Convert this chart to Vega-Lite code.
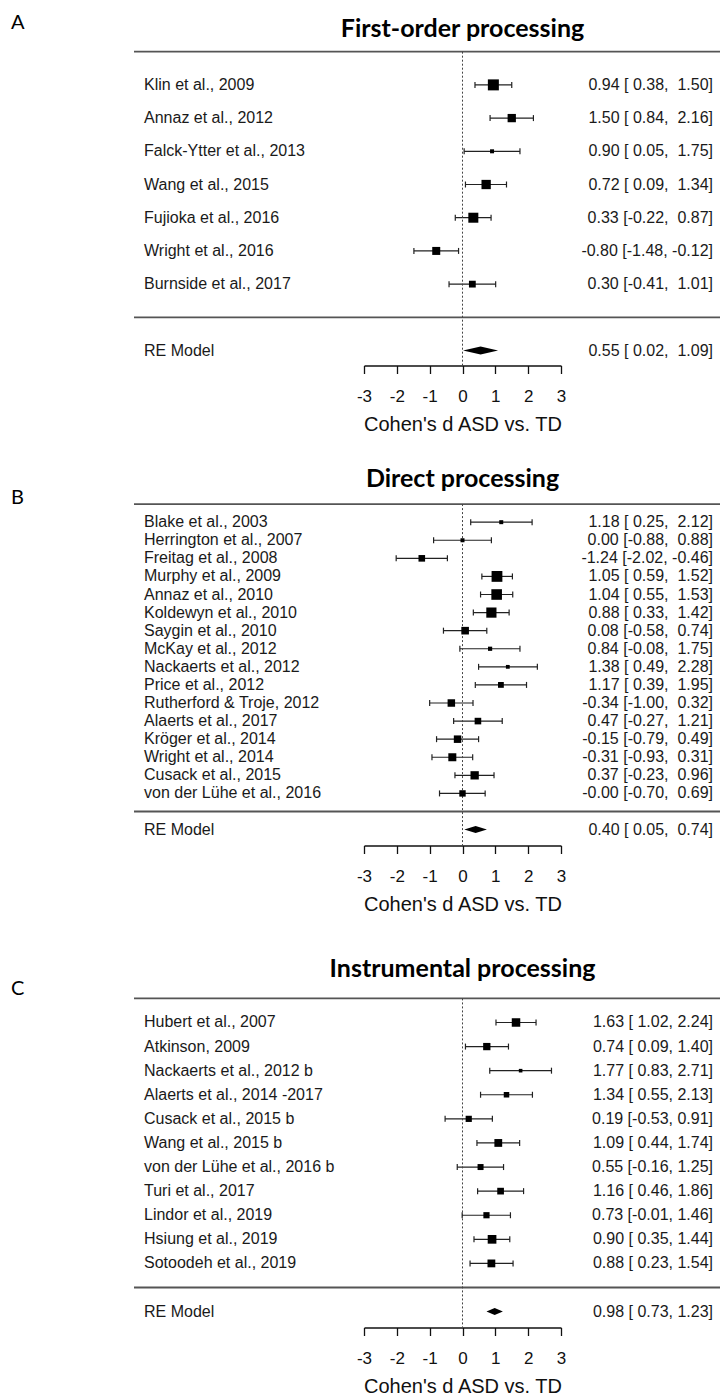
{
  "$schema": "https://vega.github.io/schema/vega-lite/v6.json",
  "background": "white",
  "padding": {"left": 11, "top": 8.5, "right": 0, "bottom": 0},
  "config": {"view": {"stroke": null},
    "axisX": {"values": [-3, -2, -1, 0, 1, 2, 3], "labelExpr": "'' + datum.value", "grid": false,
      "domainColor": "#111", "domainWidth": 1.3, "tickColor": "#111", "tickWidth": 1.3, "tickSize": 8,
      "labelFont": "Liberation Sans", "labelFontSize": 17, "labelColor": "#111", "labelPadding": 15, "labelFlush": false,
      "titleFont": "Liberation Sans", "titleFontSize": 20, "titleFontWeight": "normal", "titleColor": "#111", "titlePadding": 10}},
  "spacing": 97,
  "bounds": "flush",
  "datasets": {
    "first": [
      {"study": "Klin et al., 2009", "order": 7, "es": 0.94, "lb": 0.38, "ub": 1.50, "ci": "0.94 [ 0.38,\u00a0 1.50]", "weight": 11, "kind": "study"},
      {"study": "Annaz et al., 2012", "order": 6, "es": 1.50, "lb": 0.84, "ub": 2.16, "ci": "1.50 [ 0.84,\u00a0 2.16]", "weight": 8.3, "kind": "study"},
      {"study": "Falck-Ytter et al., 2013", "order": 5, "es": 0.90, "lb": 0.05, "ub": 1.75, "ci": "0.90 [ 0.05,\u00a0 1.75]", "weight": 4, "kind": "study"},
      {"study": "Wang et al., 2015", "order": 4, "es": 0.72, "lb": 0.09, "ub": 1.34, "ci": "0.72 [ 0.09,\u00a0 1.34]", "weight": 9.3, "kind": "study"},
      {"study": "Fujioka et al., 2016", "order": 3, "es": 0.33, "lb": -0.22, "ub": 0.87, "ci": "0.33 [-0.22,\u00a0 0.87]", "weight": 10, "kind": "study"},
      {"study": "Wright et al., 2016", "order": 2, "es": -0.80, "lb": -1.48, "ub": -0.12, "ci": "-0.80 [-1.48, -0.12]", "weight": 8, "kind": "study"},
      {"study": "Burnside et al., 2017", "order": 1, "es": 0.30, "lb": -0.41, "ub": 1.01, "ci": "0.30 [-0.41,\u00a0 1.01]", "weight": 6.8, "kind": "study"},
      {"study": "RE Model", "order": -1, "es": 0.55, "lb": 0.02, "ub": 1.09, "ci": "0.55 [ 0.02,\u00a0 1.09]", "kind": "summary"}
    ],
    "direct": [
      {"study": "Blake et al., 2003", "order": 16, "es": 1.18, "lb": 0.25, "ub": 2.12, "ci": "1.18 [ 0.25,\u00a0 2.12]", "weight": 4, "kind": "study"},
      {"study": "Herrington et al., 2007", "order": 15, "es": 0.00, "lb": -0.88, "ub": 0.88, "ci": "0.00 [-0.88,\u00a0 0.88]", "weight": 4, "kind": "study"},
      {"study": "Freitag et al., 2008", "order": 14, "es": -1.24, "lb": -2.02, "ub": -0.46, "ci": "-1.24 [-2.02, -0.46]", "weight": 6.6, "kind": "study"},
      {"study": "Murphy et al., 2009", "order": 13, "es": 1.05, "lb": 0.59, "ub": 1.52, "ci": "1.05 [ 0.59,\u00a0 1.52]", "weight": 10.8, "kind": "study"},
      {"study": "Annaz et al., 2010", "order": 12, "es": 1.04, "lb": 0.55, "ub": 1.53, "ci": "1.04 [ 0.55,\u00a0 1.53]", "weight": 10.6, "kind": "study"},
      {"study": "Koldewyn et al., 2010", "order": 11, "es": 0.88, "lb": 0.33, "ub": 1.42, "ci": "0.88 [ 0.33,\u00a0 1.42]", "weight": 10.2, "kind": "study"},
      {"study": "Saygin et al., 2010", "order": 10, "es": 0.08, "lb": -0.58, "ub": 0.74, "ci": "0.08 [-0.58,\u00a0 0.74]", "weight": 7.6, "kind": "study"},
      {"study": "McKay et al., 2012", "order": 9, "es": 0.84, "lb": -0.08, "ub": 1.75, "ci": "0.84 [-0.08,\u00a0 1.75]", "weight": 4.2, "kind": "study"},
      {"study": "Nackaerts et al., 2012", "order": 8, "es": 1.38, "lb": 0.49, "ub": 2.28, "ci": "1.38 [ 0.49,\u00a0 2.28]", "weight": 3.8, "kind": "study"},
      {"study": "Price et al., 2012", "order": 7, "es": 1.17, "lb": 0.39, "ub": 1.95, "ci": "1.17 [ 0.39,\u00a0 1.95]", "weight": 5.8, "kind": "study"},
      {"study": "Rutherford & Troje, 2012", "order": 6, "es": -0.34, "lb": -1.00, "ub": 0.32, "ci": "-0.34 [-1.00,\u00a0 0.32]", "weight": 7.5, "kind": "study"},
      {"study": "Alaerts et al., 2017", "order": 5, "es": 0.47, "lb": -0.27, "ub": 1.21, "ci": "0.47 [-0.27,\u00a0 1.21]", "weight": 6.6, "kind": "study"},
      {"study": "Kröger et al., 2014", "order": 4, "es": -0.15, "lb": -0.79, "ub": 0.49, "ci": "-0.15 [-0.79,\u00a0 0.49]", "weight": 7.5, "kind": "study"},
      {"study": "Wright et al., 2014", "order": 3, "es": -0.31, "lb": -0.93, "ub": 0.31, "ci": "-0.31 [-0.93,\u00a0 0.31]", "weight": 8, "kind": "study"},
      {"study": "Cusack et al., 2015", "order": 2, "es": 0.37, "lb": -0.23, "ub": 0.96, "ci": "0.37 [-0.23,\u00a0 0.96]", "weight": 8.3, "kind": "study"},
      {"study": "von der Lühe et al., 2016", "order": 1, "es": -0.00, "lb": -0.70, "ub": 0.69, "ci": "-0.00 [-0.70,\u00a0 0.69]", "weight": 6.4, "kind": "study"},
      {"study": "RE Model", "order": -1, "es": 0.40, "lb": 0.05, "ub": 0.74, "ci": "0.40 [ 0.05,\u00a0 0.74]", "kind": "summary"}
    ],
    "instrumental": [
      {"study": "Hubert et al., 2007", "order": 11, "es": 1.63, "lb": 1.02, "ub": 2.24, "ci": "1.63 [ 1.02, 2.24]", "weight": 8.5, "kind": "study"},
      {"study": "Atkinson, 2009", "order": 10, "es": 0.74, "lb": 0.09, "ub": 1.40, "ci": "0.74 [ 0.09, 1.40]", "weight": 7.3, "kind": "study"},
      {"study": "Nackaerts et al., 2012 b", "order": 9, "es": 1.77, "lb": 0.83, "ub": 2.71, "ci": "1.77 [ 0.83, 2.71]", "weight": 3.6, "kind": "study"},
      {"study": "Alaerts et al., 2014 -2017", "order": 8, "es": 1.34, "lb": 0.55, "ub": 2.13, "ci": "1.34 [ 0.55, 2.13]", "weight": 5.5, "kind": "study"},
      {"study": "Cusack et al., 2015 b", "order": 7, "es": 0.19, "lb": -0.53, "ub": 0.91, "ci": "0.19 [-0.53, 0.91]", "weight": 6.2, "kind": "study"},
      {"study": "Wang et al., 2015 b", "order": 6, "es": 1.09, "lb": 0.44, "ub": 1.74, "ci": "1.09 [ 0.44, 1.74]", "weight": 7.8, "kind": "study"},
      {"study": "von der Lühe et al., 2016 b", "order": 5, "es": 0.55, "lb": -0.16, "ub": 1.25, "ci": "0.55 [-0.16, 1.25]", "weight": 6, "kind": "study"},
      {"study": "Turi et al., 2017", "order": 4, "es": 1.16, "lb": 0.46, "ub": 1.86, "ci": "1.16 [ 0.46, 1.86]", "weight": 6.7, "kind": "study"},
      {"study": "Lindor et al., 2019", "order": 3, "es": 0.73, "lb": -0.01, "ub": 1.46, "ci": "0.73 [-0.01, 1.46]", "weight": 6.2, "kind": "study"},
      {"study": "Hsiung et al., 2019", "order": 2, "es": 0.90, "lb": 0.35, "ub": 1.44, "ci": "0.90 [ 0.35, 1.44]", "weight": 8.7, "kind": "study"},
      {"study": "Sotoodeh et al., 2019", "order": 1, "es": 0.88, "lb": 0.23, "ub": 1.54, "ci": "0.88 [ 0.23, 1.54]", "weight": 7.8, "kind": "study"},
      {"study": "RE Model", "order": -1, "es": 0.98, "lb": 0.73, "ub": 1.23, "ci": "0.98 [ 0.73, 1.23]", "kind": "summary"}
    ]
  },
  "vconcat": [
    {
      "width": 197, "height": 357,
      "data": {"name": "first"},
      "layer": [
        {"transform": [{"filter": "datum.kind == 'study'"}],
         "mark": {"type": "rule", "color": "#222", "strokeWidth": 1.2},
         "encoding": {
           "x": {"field": "lb", "type": "quantitative", "scale": {"domain": [-3, 3], "nice": false, "zero": false}, "title": "Cohen's d ASD vs. TD"},
           "x2": {"field": "ub"},
           "y": {"field": "order", "type": "quantitative", "scale": {"domain": [-1.45, 9.3], "nice": false, "zero": false}, "axis": null}}},
        {"data": {"values": [{}]}, "mark": {"type": "rule", "color": "#555", "strokeWidth": 1.8},
         "encoding": {"x": {"datum": -10.005}, "x2": {"datum": 7.843}, "y": {"datum": 8, "axis": null}}},
        {"data": {"values": [{}]}, "mark": {"type": "rule", "color": "#555", "strokeWidth": 1.8},
         "encoding": {"x": {"datum": -10.005}, "x2": {"datum": 7.843}, "y": {"datum": 0, "axis": null}}},
        {"data": {"values": [{}]}, "mark": {"type": "rule", "color": "#444", "strokeWidth": 1, "strokeDash": [2, 2]},
         "encoding": {"x": {"datum": 0}, "y": {"datum": 8, "axis": null}, "y2": {"datum": -1.45}}},
        {"transform": [{"filter": "datum.kind == 'study'"}],
         "mark": {"type": "tick", "orient": "vertical", "size": 6, "thickness": 1.2, "color": "#222", "opacity": 1},
         "encoding": {"x": {"field": "lb", "type": "quantitative"}, "y": {"field": "order", "type": "quantitative", "axis": null}}},
        {"transform": [{"filter": "datum.kind == 'study'"}],
         "mark": {"type": "tick", "orient": "vertical", "size": 6, "thickness": 1.2, "color": "#222", "opacity": 1},
         "encoding": {"x": {"field": "ub", "type": "quantitative"}, "y": {"field": "order", "type": "quantitative", "axis": null}}},
        {"transform": [{"filter": "datum.kind == 'study'"}],
         "mark": {"type": "point", "shape": "square", "filled": true, "color": "#000", "opacity": 1, "strokeWidth": 0},
         "encoding": {"x": {"field": "es", "type": "quantitative"}, "y": {"field": "order", "type": "quantitative", "axis": null},
                      "size": {"field": "weight", "type": "quantitative", "scale": {"type": "pow", "exponent": 2, "domain": [0, 12], "range": [0, 144]}, "legend": null}}},
        {"transform": [{"filter": "datum.kind == 'summary'"}],
         "mark": {"type": "point", "shape": "M-1,0L0,-0.23L1,0L0,0.23Z", "size": 1225, "filled": true, "color": "#000", "opacity": 1, "strokeWidth": 0},
         "encoding": {"x": {"field": "es", "type": "quantitative"}, "y": {"field": "order", "type": "quantitative", "axis": null}}},
        {"mark": {"type": "text", "align": "left", "font": "Liberation Sans", "fontSize": 16, "color": "#1a1a1a"},
         "encoding": {"x": {"datum": -9.70}, "y": {"field": "order", "type": "quantitative", "axis": null}, "text": {"field": "study"}}},
        {"mark": {"type": "text", "align": "right", "font": "Liberation Sans", "fontSize": 16, "color": "#1a1a1a"},
         "encoding": {"x": {"datum": 7.63}, "y": {"field": "order", "type": "quantitative", "axis": null}, "text": {"field": "ci"}}},
        {"data": {"values": [{}]}, "mark": {"type": "text", "align": "center", "font": "Lato", "fontWeight": "bold", "fontSize": 25, "color": "#000", "text": "First-order processing"},
         "encoding": {"x": {"datum": 0}, "y": {"datum": 8.68, "axis": null}}},
        {"data": {"values": [{}]}, "mark": {"type": "text", "align": "left", "font": "Lato", "fontSize": 20, "color": "#000", "text": "A"},
         "encoding": {"x": {"datum": -13.75}, "y": {"datum": 8.85, "axis": null}}}
      ]
    },
    {
      "width": 197, "height": 383,
      "data": {"name": "direct"},
      "layer": [
        {"transform": [{"filter": "datum.kind == 'study'"}],
         "mark": {"type": "rule", "color": "#222", "strokeWidth": 1.2},
         "encoding": {
           "x": {"field": "lb", "type": "quantitative", "scale": {"domain": [-3, 3], "nice": false, "zero": false}, "title": "Cohen's d ASD vs. TD"},
           "x2": {"field": "ub"},
           "y": {"field": "order", "type": "quantitative", "scale": {"domain": [-1.88, 19.3], "nice": false, "zero": false}, "axis": null}}},
        {"data": {"values": [{}]}, "mark": {"type": "rule", "color": "#555", "strokeWidth": 1.8},
         "encoding": {"x": {"datum": -10.005}, "x2": {"datum": 7.843}, "y": {"datum": 17, "axis": null}}},
        {"data": {"values": [{}]}, "mark": {"type": "rule", "color": "#555", "strokeWidth": 1.8},
         "encoding": {"x": {"datum": -10.005}, "x2": {"datum": 7.843}, "y": {"datum": 0, "axis": null}}},
        {"data": {"values": [{}]}, "mark": {"type": "rule", "color": "#444", "strokeWidth": 1, "strokeDash": [2, 2]},
         "encoding": {"x": {"datum": 0}, "y": {"datum": 17, "axis": null}, "y2": {"datum": -1.88}}},
        {"transform": [{"filter": "datum.kind == 'study'"}],
         "mark": {"type": "tick", "orient": "vertical", "size": 6, "thickness": 1.2, "color": "#222", "opacity": 1},
         "encoding": {"x": {"field": "lb", "type": "quantitative"}, "y": {"field": "order", "type": "quantitative", "axis": null}}},
        {"transform": [{"filter": "datum.kind == 'study'"}],
         "mark": {"type": "tick", "orient": "vertical", "size": 6, "thickness": 1.2, "color": "#222", "opacity": 1},
         "encoding": {"x": {"field": "ub", "type": "quantitative"}, "y": {"field": "order", "type": "quantitative", "axis": null}}},
        {"transform": [{"filter": "datum.kind == 'study'"}],
         "mark": {"type": "point", "shape": "square", "filled": true, "color": "#000", "opacity": 1, "strokeWidth": 0},
         "encoding": {"x": {"field": "es", "type": "quantitative"}, "y": {"field": "order", "type": "quantitative", "axis": null},
                      "size": {"field": "weight", "type": "quantitative", "scale": {"type": "pow", "exponent": 2, "domain": [0, 12], "range": [0, 144]}, "legend": null}}},
        {"transform": [{"filter": "datum.kind == 'summary'"}],
         "mark": {"type": "point", "shape": "M-1,0L0,-0.31L1,0L0,0.31Z", "size": 511, "filled": true, "color": "#000", "opacity": 1, "strokeWidth": 0},
         "encoding": {"x": {"field": "es", "type": "quantitative"}, "y": {"field": "order", "type": "quantitative", "axis": null}}},
        {"mark": {"type": "text", "align": "left", "font": "Liberation Sans", "fontSize": 16, "color": "#1a1a1a"},
         "encoding": {"x": {"datum": -9.70}, "y": {"field": "order", "type": "quantitative", "axis": null}, "text": {"field": "study"}}},
        {"mark": {"type": "text", "align": "right", "font": "Liberation Sans", "fontSize": 16, "color": "#1a1a1a"},
         "encoding": {"x": {"datum": 7.63}, "y": {"field": "order", "type": "quantitative", "axis": null}, "text": {"field": "ci"}}},
        {"data": {"values": [{}]}, "mark": {"type": "text", "align": "center", "font": "Lato", "fontWeight": "bold", "fontSize": 25, "color": "#000", "text": "Direct processing"},
         "encoding": {"x": {"datum": 0}, "y": {"datum": 18.41, "axis": null}}},
        {"data": {"values": [{}]}, "mark": {"type": "text", "align": "left", "font": "Lato", "fontSize": 20, "color": "#000", "text": "B"},
         "encoding": {"x": {"datum": -13.75}, "y": {"datum": 17.36, "axis": null}}}
      ]
    },
    {
      "width": 197, "height": 385,
      "data": {"name": "instrumental"},
      "layer": [
        {"transform": [{"filter": "datum.kind == 'study'"}],
         "mark": {"type": "rule", "color": "#222", "strokeWidth": 1.2},
         "encoding": {
           "x": {"field": "lb", "type": "quantitative", "scale": {"domain": [-3, 3], "nice": false, "zero": false}, "title": "Cohen's d ASD vs. TD"},
           "x2": {"field": "ub"},
           "y": {"field": "order", "type": "quantitative", "scale": {"domain": [-1.66, 14.32], "nice": false, "zero": false}, "axis": null}}},
        {"data": {"values": [{}]}, "mark": {"type": "rule", "color": "#555", "strokeWidth": 1.8},
         "encoding": {"x": {"datum": -10.005}, "x2": {"datum": 7.843}, "y": {"datum": 12, "axis": null}}},
        {"data": {"values": [{}]}, "mark": {"type": "rule", "color": "#555", "strokeWidth": 1.8},
         "encoding": {"x": {"datum": -10.005}, "x2": {"datum": 7.843}, "y": {"datum": 0, "axis": null}}},
        {"data": {"values": [{}]}, "mark": {"type": "rule", "color": "#444", "strokeWidth": 1, "strokeDash": [2, 2]},
         "encoding": {"x": {"datum": 0}, "y": {"datum": 12, "axis": null}, "y2": {"datum": -1.66}}},
        {"transform": [{"filter": "datum.kind == 'study'"}],
         "mark": {"type": "tick", "orient": "vertical", "size": 6, "thickness": 1.2, "color": "#222", "opacity": 1},
         "encoding": {"x": {"field": "lb", "type": "quantitative"}, "y": {"field": "order", "type": "quantitative", "axis": null}}},
        {"transform": [{"filter": "datum.kind == 'study'"}],
         "mark": {"type": "tick", "orient": "vertical", "size": 6, "thickness": 1.2, "color": "#222", "opacity": 1},
         "encoding": {"x": {"field": "ub", "type": "quantitative"}, "y": {"field": "order", "type": "quantitative", "axis": null}}},
        {"transform": [{"filter": "datum.kind == 'study'"}],
         "mark": {"type": "point", "shape": "square", "filled": true, "color": "#000", "opacity": 1, "strokeWidth": 0},
         "encoding": {"x": {"field": "es", "type": "quantitative"}, "y": {"field": "order", "type": "quantitative", "axis": null},
                      "size": {"field": "weight", "type": "quantitative", "scale": {"type": "pow", "exponent": 2, "domain": [0, 12], "range": [0, 144]}, "legend": null}}},
        {"transform": [{"filter": "datum.kind == 'summary'"}],
         "mark": {"type": "point", "shape": "M-1,0L0,-0.43L1,0L0,0.43Z", "size": 269, "filled": true, "color": "#000", "opacity": 1, "strokeWidth": 0},
         "encoding": {"x": {"field": "es", "type": "quantitative"}, "y": {"field": "order", "type": "quantitative", "axis": null}}},
        {"mark": {"type": "text", "align": "left", "font": "Liberation Sans", "fontSize": 16, "color": "#1a1a1a"},
         "encoding": {"x": {"datum": -9.70}, "y": {"field": "order", "type": "quantitative", "axis": null}, "text": {"field": "study"}}},
        {"mark": {"type": "text", "align": "right", "font": "Liberation Sans", "fontSize": 16, "color": "#1a1a1a"},
         "encoding": {"x": {"datum": 7.63}, "y": {"field": "order", "type": "quantitative", "axis": null}, "text": {"field": "ci"}}},
        {"data": {"values": [{}]}, "mark": {"type": "text", "align": "center", "font": "Lato", "fontWeight": "bold", "fontSize": 25, "color": "#000", "text": "Instrumental processing"},
         "encoding": {"x": {"datum": 0}, "y": {"datum": 13.24, "axis": null}}},
        {"data": {"values": [{}]}, "mark": {"type": "text", "align": "left", "font": "Lato", "fontSize": 20, "color": "#000", "text": "C"},
         "encoding": {"x": {"datum": -13.75}, "y": {"datum": 12.41, "axis": null}}}
      ]
    }
  ]
}
